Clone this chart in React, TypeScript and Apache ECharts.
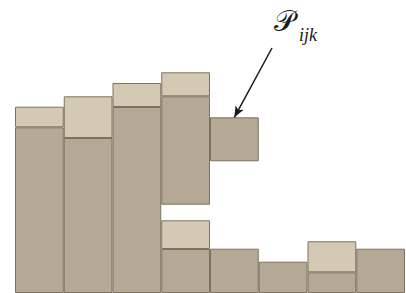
import React, { useEffect, useRef } from "react";
import * as echarts from "echarts";

const categories = ["1", "2", "3", "4", "5", "6", "7", "8"];
const lowerDark = [165.7, 155, 186, 44, 44.3, 31.3, 20.7, 44.3];
const lowerLight = [20.6, 41.7, 24, 28.7, 0, 0, 31, 0];
const gap = [0, 0, 0, 15.6, 87.4, 0, 0, 0];
const upperDark = [0, 0, 0, 108.4, 44, 0, 0, 0];
const upperLight = [0, 0, 0, 24, 0, 0, 0, 0];
const annotationIndex = 4;

const DARK = "#b4a994";
const LIGHT = "#d4c9b3";
const EDGE = "#7d725f";

const clean = (arr: number[]) => arr.map((v) => (v === 0 ? "-" : v));

export default function App() {
  const ref = useRef<HTMLDivElement>(null);
  useEffect(() => {
    if (!ref.current) return;
    const chart = echarts.init(ref.current, undefined, { renderer: "svg" });
    const barStyle = (color: string) => ({
      color,
      borderColor: EDGE,
      borderWidth: 1,
    });
    const tipValue =
      lowerDark[annotationIndex] +
      lowerLight[annotationIndex] +
      gap[annotationIndex] +
      upperDark[annotationIndex] +
      upperLight[annotationIndex];
    chart.setOption({
      animation: false,
      grid: { left: 15, right: 1, top: 0, bottom: 0 },
      xAxis: {
        type: "category",
        data: categories,
        show: false,
      },
      yAxis: { type: "value", min: 0, max: 293, show: false },
      series: [
        {
          type: "bar",
          stack: "s",
          barCategoryGap: "0%",
          data: clean(lowerDark),
          itemStyle: barStyle(DARK),
        },
        {
          type: "bar",
          stack: "s",
          data: clean(lowerLight),
          itemStyle: barStyle(LIGHT),
        },
        {
          type: "bar",
          stack: "s",
          data: clean(gap),
          itemStyle: { color: "transparent", borderWidth: 0 },
        },
        {
          type: "bar",
          stack: "s",
          data: clean(upperDark),
          itemStyle: barStyle(DARK),
          markLine: {
            silent: true,
            symbol: ["none", "arrow"],
            symbolSize: [7, 11],
            label: { show: false },
            lineStyle: { color: "#1a1a1a", width: 1.5, type: "solid" },
            data: [
              [
                { x: 272, y: 48 },
                { coord: [annotationIndex, tipValue] },
              ],
            ],
          },
        },
        {
          type: "bar",
          stack: "s",
          data: clean(upperLight),
          itemStyle: barStyle(LIGHT),
        },
      ],
      graphic: [
        {
          type: "text",
          left: 274,
          top: 6,
          style: {
            text: "𝒫",
            fontFamily: "DejaVu Sans, DejaVu Serif, serif",
            fontSize: 29,
            fill: "#1a1a1a",
          },
        },
        {
          type: "text",
          left: 299,
          top: 26,
          style: {
            text: "ijk",
            fontFamily: "Liberation Serif, serif",
            fontStyle: "italic",
            fontSize: 18,
            fill: "#1a1a1a",
          },
        },
      ],
    });
    return () => chart.dispose();
  }, []);
  return (
    <div
      ref={ref}
      style={{ position: "absolute", left: 0, top: 0, width: 406, height: 293 }}
    />
  );
}
